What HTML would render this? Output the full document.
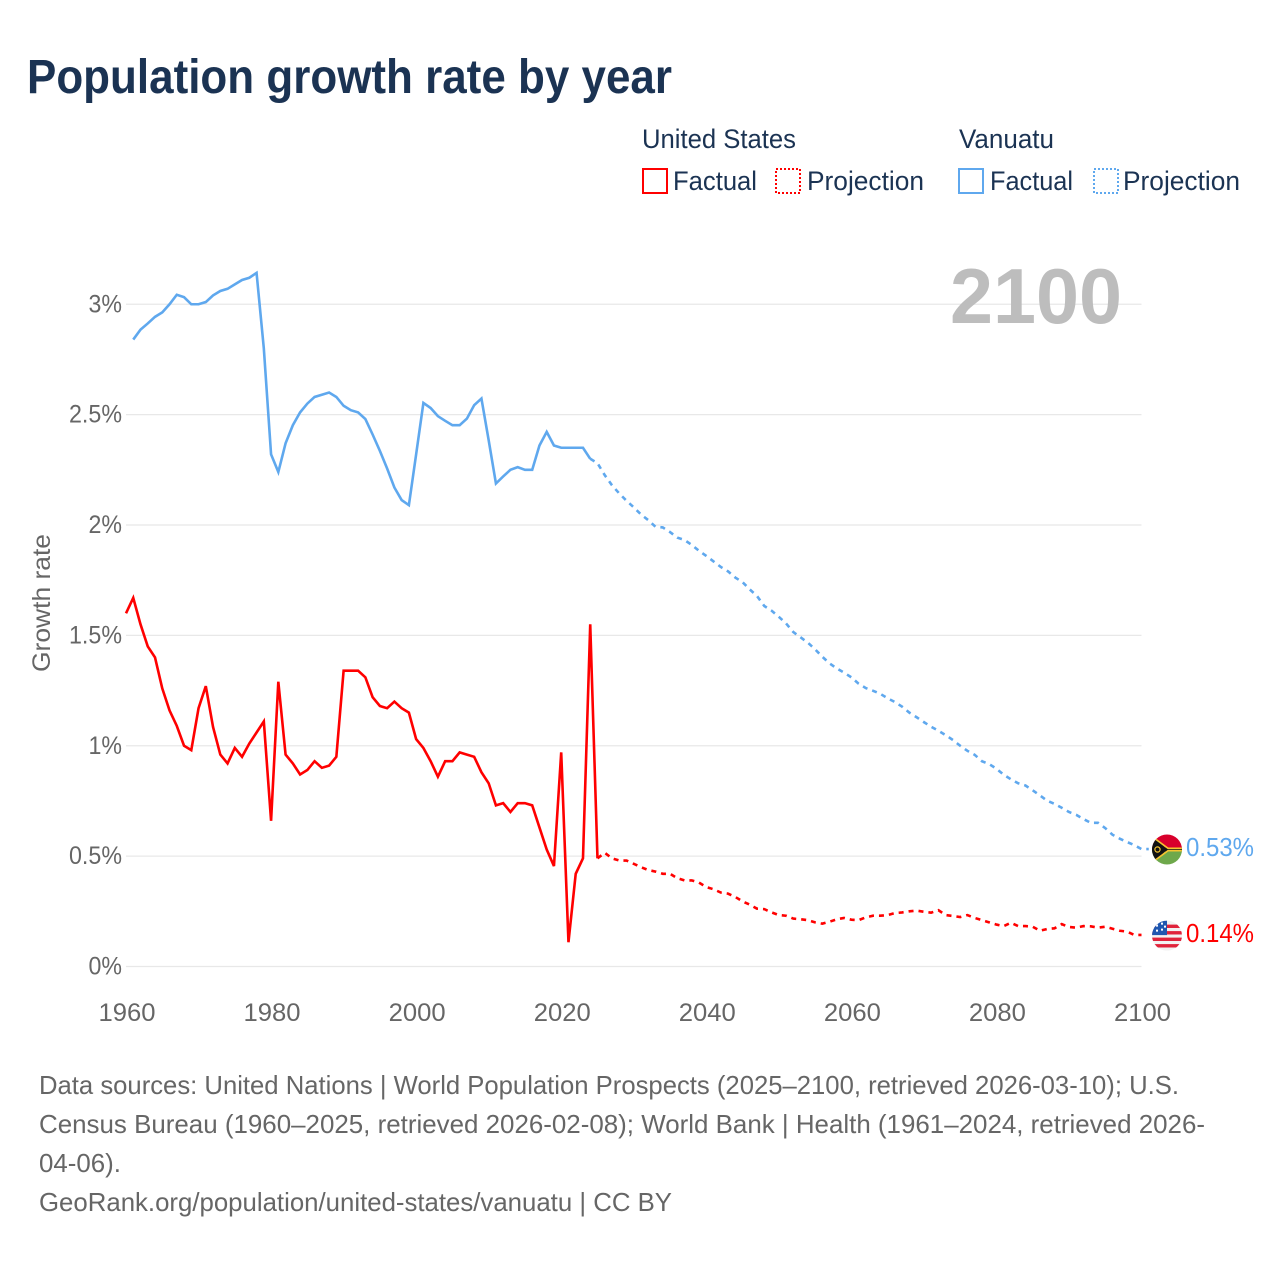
<!DOCTYPE html>
<html lang="en">
<head>
<meta charset="utf-8">
<title>Population growth rate by year</title>
<style>
html,body{margin:0;padding:0;background:#fff;width:1280px;height:1280px;overflow:hidden}
svg{display:block}
text{font-family:"Liberation Sans",sans-serif}
.leg{font-size:27px;fill:#1b3353}
.foot{font-size:26px;fill:#666}
.tick{font-size:25px;fill:#666}
</style>
</head>
<body>
<svg id="chart" xmlns="http://www.w3.org/2000/svg" width="1280" height="1280" viewBox="0 0 1280 1280">
<defs>
<clipPath id="flag-clip-vu"><circle cx="0" cy="0" r="15"/></clipPath>
<clipPath id="flag-clip-us"><circle cx="0" cy="0" r="15"/></clipPath>
</defs>
<rect width="1280" height="1280" fill="#fff"/>
<text x="27" y="93" font-size="48" font-weight="bold" fill="#1b3353" textLength="645" lengthAdjust="spacingAndGlyphs">Population growth rate by year</text>

<g>
<text class="leg" x="642" y="148" textLength="154" lengthAdjust="spacingAndGlyphs">United States</text>
<rect x="643" y="169" width="24" height="24" fill="none" stroke="#ff0000" stroke-width="2"/>
<text class="leg" x="673" y="190" textLength="84" lengthAdjust="spacingAndGlyphs">Factual</text>
<rect x="776" y="169" width="24" height="24" fill="none" stroke="#ff0000" stroke-width="2" stroke-dasharray="2,2"/>
<text class="leg" x="807" y="190" textLength="117" lengthAdjust="spacingAndGlyphs">Projection</text>
<text class="leg" x="959" y="148" textLength="95" lengthAdjust="spacingAndGlyphs">Vanuatu</text>
<rect x="959" y="169" width="24" height="24" fill="none" stroke="#5fa8ee" stroke-width="2"/>
<text class="leg" x="990" y="190" textLength="83" lengthAdjust="spacingAndGlyphs">Factual</text>
<rect x="1094" y="169" width="24" height="24" fill="none" stroke="#5fa8ee" stroke-width="2" stroke-dasharray="2,2"/>
<text class="leg" x="1123" y="190" textLength="117" lengthAdjust="spacingAndGlyphs">Projection</text>
</g>

<g id="grid"></g>
<g id="yticks"></g>
<g id="xticks"></g>
<text class="tick" transform="translate(50 603) rotate(-90)" text-anchor="middle" textLength="138" lengthAdjust="spacingAndGlyphs">Growth rate</text>
<text x="950" y="323" font-size="78" font-weight="bold" fill="#bdbdbd" textLength="172" lengthAdjust="spacingAndGlyphs">2100</text>
<g id="series"></g>

<g id="flag-vu">
<g clip-path="url(#flag-clip-vu)">
<rect x="-15" y="-15" width="30" height="15" fill="#d8002c"/>
<rect x="-15" y="0" width="30" height="15" fill="#6ea84b"/>
<rect x="-15" y="-2" width="30" height="4" fill="#111"/>
<path d="M-15 -15 L0 0 L-15 15 Z" fill="#111"/>
<path d="M-15 -13 L1 -1.2 L15 -1.2 M-15 13 L1 1.2 L15 1.2" fill="none" stroke="#f4c430" stroke-width="1.6"/>
<circle cx="-9.5" cy="0" r="2.6" fill="none" stroke="#f4c430" stroke-width="1.2"/>
</g>
</g>
<g id="flag-us">
<g clip-path="url(#flag-clip-us)">
<rect x="-15" y="-15" width="30" height="30" fill="#f2f2f2"/>
<rect x="-15" y="-11" width="30" height="3.4" fill="#e0233b"/>
<rect x="-15" y="-4.5" width="30" height="3.4" fill="#e0233b"/>
<rect x="-15" y="2" width="30" height="3.4" fill="#e0233b"/>
<rect x="-15" y="8.5" width="30" height="3.4" fill="#e0233b"/>
<rect x="-15" y="-15" width="15" height="14.5" fill="#1f57b0"/>
<path d="M-11 -11h2v2h-2zM-6 -13h2v2h-2zM-11 -6h2v2h-2zM-6 -7h2v2h-2zM-3 -10h2v2h-2z" fill="#fff"/>
</g>
</g>
<text id="label-vu" x="1186" font-size="26" fill="#5fa8ee" textLength="68" lengthAdjust="spacingAndGlyphs"></text>
<text id="label-us" x="1186" font-size="26" fill="#ff0000" textLength="68" lengthAdjust="spacingAndGlyphs"></text>

<g>
<text class="foot" x="39" y="1094" textLength="1140" lengthAdjust="spacingAndGlyphs">Data sources: United Nations | World Population Prospects (2025–2100, retrieved 2026-03-10); U.S.</text>
<text class="foot" x="39" y="1133" textLength="1166" lengthAdjust="spacingAndGlyphs">Census Bureau (1960–2025, retrieved 2026-02-08); World Bank | Health (1961–2024, retrieved 2026-</text>
<text class="foot" x="39" y="1172" textLength="82" lengthAdjust="spacingAndGlyphs">04-06).</text>
<text class="foot" x="39" y="1211" textLength="633" lengthAdjust="spacingAndGlyphs">GeoRank.org/population/united-states/vanuatu | CC BY</text>
</g>
</svg>
<script>
const yTickValues = [0, 0.5, 1, 1.5, 2, 2.5, 3];
const yTickLabels = ['0%', '0.5%', '1%', '1.5%', '2%', '2.5%', '3%'];
const xTickValues = [1960, 1980, 2000, 2020, 2040, 2060, 2080, 2100];
const xTickLabels = ['1960', '1980', '2000', '2020', '2040', '2060', '2080', '2100'];

const usFactualStart = 1960;
const usFactual = [1.60,1.67,1.55,1.45,1.40,1.26,1.16,1.09,1.00,0.98,
1.17,1.27,1.085,0.96,0.92,0.99,0.95,1.01,1.06,1.11,
0.66,1.29,0.96,0.92,0.87,0.89,0.93,0.90,0.91,0.95,
1.34,1.34,1.34,1.31,1.22,1.18,1.17,1.20,1.17,1.15,
1.03,0.99,0.93,0.86,0.93,0.93,0.97,0.96,0.95,0.88,
0.83,0.73,0.74,0.70,0.74,0.74,0.73,0.63,0.53,0.455,
0.97,0.11,0.42,0.49,1.55,0.49];

const usProjectionStart = 2025;
const usProjection = [0.49,0.515,0.49,0.48,0.48,0.465,0.45,0.437,0.43,0.42,0.42,
0.40,0.39,0.39,0.38,0.36,0.35,0.335,0.33,0.315,0.295,
0.28,0.262,0.26,0.245,0.233,0.23,0.217,0.214,0.21,0.20,
0.194,0.203,0.214,0.22,0.212,0.21,0.223,0.23,0.23,0.233,
0.242,0.245,0.25,0.253,0.248,0.244,0.255,0.233,0.229,0.224,
0.233,0.22,0.21,0.20,0.19,0.183,0.198,0.183,0.183,0.18,
0.162,0.17,0.173,0.192,0.179,0.176,0.183,0.182,0.176,0.18,
0.171,0.162,0.158,0.143,0.143];

const vuFactualStart = 1961;
const vuFactual = [2.84,2.885,2.913,2.943,2.963,3.00,3.043,3.032,3.00,
3.00,3.01,3.04,3.06,3.07,3.09,3.11,3.12,3.142,2.80,
2.32,2.24,2.37,2.452,2.51,2.55,2.58,2.59,2.60,2.58,
2.54,2.52,2.51,2.48,2.41,2.336,2.256,2.17,2.113,2.09,
2.32,2.553,2.53,2.493,2.472,2.452,2.452,2.482,2.543,2.573,
2.384,2.188,2.22,2.25,2.262,2.25,2.25,2.36,2.422,2.36,
2.35,2.35,2.35,2.35,2.30];

const vuProjectionStart = 2024;
const vuProjection = [2.30,2.28,2.226,2.18,2.143,2.11,2.08,2.048,2.022,1.992,1.989,
1.968,1.943,1.932,1.91,1.883,1.86,1.835,1.81,1.79,1.762,
1.741,1.708,1.678,1.633,1.612,1.584,1.554,1.515,1.491,1.467,
1.437,1.403,1.373,1.35,1.331,1.31,1.281,1.261,1.249,1.235,
1.215,1.198,1.177,1.15,1.129,1.107,1.086,1.068,1.048,1.026,
1.0,0.977,0.959,0.93,0.917,0.896,0.869,0.848,0.83,0.82,
0.798,0.775,0.751,0.737,0.719,0.70,0.687,0.668,0.651,0.651,
0.627,0.597,0.579,0.564,0.55,0.532,0.532];

const endValues = [0.53, 0.14];

const NS = 'http://www.w3.org/2000/svg';
function xScale(year) { return 126 + (year - 1960) * (1141.5 - 126) / 140; }
function yScale(v) { return 966.5 - v * 220.75; }

function tickWidth(s) {
  let w = 0;
  for (const c of s) { w += c === '%' ? 19.5 : c === '.' ? 5.5 : 14; }
  return w;
}

const grid = document.getElementById('grid');
const yticks = document.getElementById('yticks');
yTickValues.forEach(function (v, i) {
  const l = document.createElementNS(NS, 'line');
  
  
  l.setAttribute('x1', xScale(1960));
  l.setAttribute('x2', xScale(2100));
  l.setAttribute('y1', yScale(v));
  l.setAttribute('y2', yScale(v));
  l.setAttribute('stroke', '#e8e8e8');
  l.setAttribute('stroke-width', '1.3');
  grid.appendChild(l);
  const t = document.createElementNS(NS, 'text');
  
  
  t.setAttribute('class', 'tick');
  t.setAttribute('text-anchor', 'end');
  t.setAttribute('x', 122);
  t.setAttribute('y', yScale(v) + 8);
  t.setAttribute('textLength', tickWidth(yTickLabels[i]));
  t.setAttribute('lengthAdjust', 'spacingAndGlyphs');
  t.textContent = yTickLabels[i];
  yticks.appendChild(t);
});

const xticks = document.getElementById('xticks');
xTickValues.forEach(function (v, i) {
  const t = document.createElementNS(NS, 'text');
  
  
  t.setAttribute('class', 'tick');
  t.setAttribute('text-anchor', 'middle');
  t.setAttribute('x', xScale(v) + 1);
  t.setAttribute('y', 1021);
  t.setAttribute('textLength', 57);
  t.setAttribute('lengthAdjust', 'spacingAndGlyphs');
  t.textContent = xTickLabels[i];
  xticks.appendChild(t);
});

const seriesGroup = document.getElementById('series');
function drawLine(start, values, color, dashed, name) {
  const p = document.createElementNS(NS, 'path');
  
  
  const d = values.map(function (v, i) {
    return (i ? 'L' : 'M') + xScale(start + i).toFixed(2) + ' ' + yScale(v).toFixed(2);
  }).join(' ');
  p.setAttribute('d', d);
  p.setAttribute('fill', 'none');
  p.setAttribute('stroke', color);
  p.setAttribute('stroke-width', '2.6');
  p.setAttribute('stroke-linejoin', 'miter');
  if (dashed) p.setAttribute('stroke-dasharray', '5,5');
  seriesGroup.appendChild(p);
}
drawLine(vuFactualStart, vuFactual, '#5fa8ee', false, 'vanuatu-factual-line');
drawLine(vuProjectionStart, vuProjection, '#5fa8ee', true, 'vanuatu-projection-line');
drawLine(usFactualStart, usFactual, '#ff0000', false, 'united-states-factual-line');
drawLine(usProjectionStart, usProjection, '#ff0000', true, 'united-states-projection-line');

const vuEnd = yScale(endValues[0]);
const usEnd = yScale(endValues[1]);
document.getElementById('flag-vu').setAttribute('transform', 'translate(1167 ' + vuEnd + ')');
document.getElementById('flag-us').setAttribute('transform', 'translate(1167 ' + usEnd + ')');
const labelVu = document.getElementById('label-vu');
labelVu.setAttribute('y', vuEnd + 6.5);
labelVu.textContent = endValues[0].toFixed(2) + '%';
const labelUs = document.getElementById('label-us');
labelUs.setAttribute('y', usEnd + 6.5);
labelUs.textContent = endValues[1].toFixed(2) + '%';
</script>
</body>
</html>
